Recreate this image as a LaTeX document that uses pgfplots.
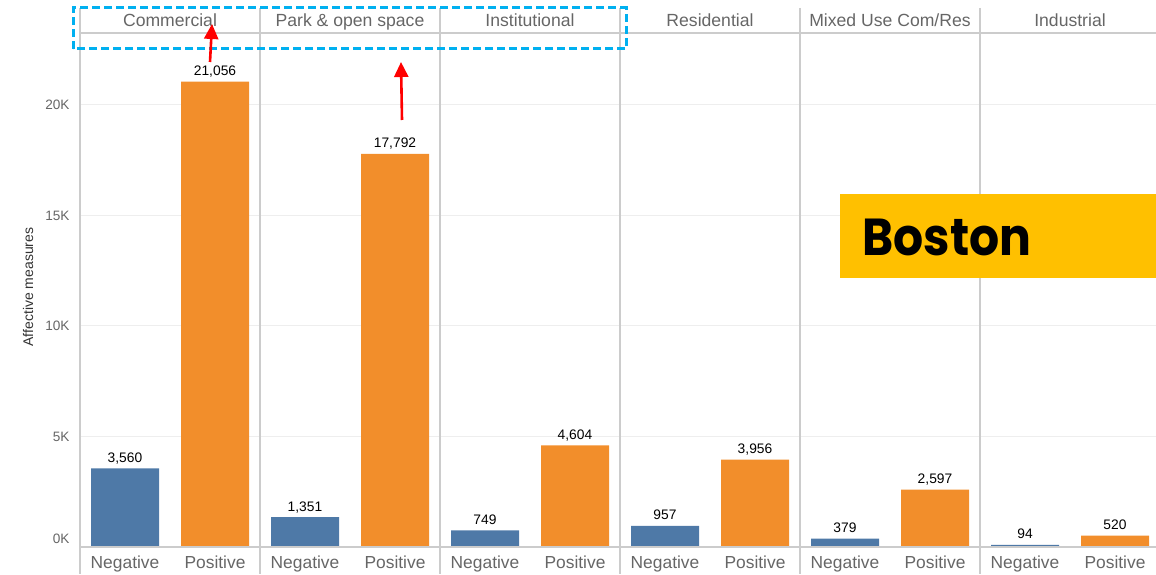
\documentclass[border=0pt]{standalone}
\usepackage{pgfplots}
\pgfplotsset{compat=1.18}
\usepackage{fontspec}
\setmainfont{Liberation Sans}
\newfontfamily\boston{Poppins}[FakeStretch=0.91]
\usetikzlibrary{arrows.meta}
\definecolor{tabblue}{HTML}{4E79A7}
\definecolor{taborange}{HTML}{F28E2B}
\definecolor{txtgray}{HTML}{666666}
\definecolor{sepgray}{HTML}{CCCCCC}
\definecolor{gridgray}{HTML}{EEEEEE}
\definecolor{boxyellow}{HTML}{FFC000}
\definecolor{dashblue}{HTML}{00B0F0}
\begin{document}
\begin{tikzpicture}
\useasboundingbox (-40pt,-13.5pt) rectangle (538pt,273.5pt);
\begin{axis}[
  scale only axis, width=538pt, height=257pt,
  xmin=-0.5, xmax=11.4556, ymin=0, ymax=23258,
  axis line style={draw=none}, major tick length=0pt,
  scaled y ticks=false,
  xtick={0,...,11},
  xticklabels={Negative,Positive,Negative,Positive,Negative,Positive,Negative,Positive,Negative,Positive,Negative,Positive},
  xticklabel style={text=txtgray, font=\fontsize{8.7}{10}\selectfont, anchor=base, yshift=-10.5pt},
  ytick={5000,10000,15000,20000}, yticklabels={5K,10K,15K,20K},
  extra y ticks={350}, extra y tick labels={0K}, extra y tick style={grid=none},
  yticklabel style={text=txtgray, font=\fontsize{6.8}{8}\selectfont, xshift=-1.7pt},
  ymajorgrids, grid style={gridgray, line width=0.5pt},
  ybar, bar width=34pt, bar shift=0pt,
  /pgf/number format/assume math mode=true,
  nodes near coords={\pgfmathprintnumber[fixed,precision=0,1000 sep={,}]{\pgfplotspointmeta}},
  every node near coord/.append style={font=\fontsize{6.9}{8}\selectfont, text=black, anchor=base, yshift=3pt},
  clip=false,
]
\addplot[fill=tabblue, draw=none] coordinates {(0,3560) (2,1351) (4,749) (6,957) (8,379) (10,94)};
\addplot[fill=taborange, draw=none] coordinates {(1,21056) (3,17792) (5,4604) (7,3956) (9,2597) (11,520)};
\end{axis}
% frame lines
\draw[sepgray, line width=0.6pt] (0,257pt) -- (538pt,257pt);
\draw[sepgray, line width=0.6pt] (0,0) -- (538pt,0);
\foreach \x in {0,90,180,270,360,450} {
  \draw[sepgray, line width=0.6pt] (\x pt,269.5pt) -- (\x pt,-13.5pt);
}
% header labels
\foreach \x/\t in {45/{Commercial},135/{Park \& open space},225/{Institutional},315/{Residential},405/{Mixed Use Com/Res},495/{Industrial}} {
  \node[anchor=base, text=txtgray, font=\fontsize{8.8}{10}\selectfont, inner sep=0pt] at (\x pt,260pt) {\t};
}
% y label
\node[rotate=90, text=black!80, font=\fontsize{7}{8}\selectfont] at (-26pt,130pt) {Affective measures};
% dashed highlight
\draw[dashblue, line width=1.5pt, dash pattern=on 4pt off 2pt] (-3.5pt,249pt) rectangle (273pt,269.5pt);
% arrows
\draw[red, line width=1.3pt, -{Triangle[width=7pt,length=7.5pt]}] (65pt,242.5pt) -- (66pt,261.5pt);
\draw[red, line width=1.3pt, -{Triangle[width=7pt,length=7.5pt]}] (161pt,213.5pt) -- (160.5pt,242.5pt);
% Boston box
\fill[boxyellow] (380pt,134.5pt) rectangle (538pt,176.5pt);
\node[anchor=base west, inner sep=0pt, font=\boston\bfseries\fontsize{26}{26}\selectfont] at (391pt,146pt) {Boston};
\end{tikzpicture}
\end{document}
